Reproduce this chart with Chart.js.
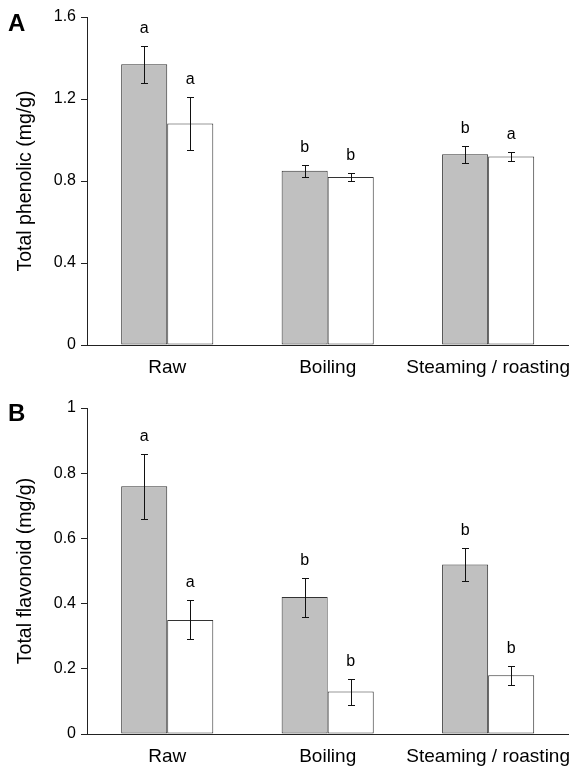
<!DOCTYPE html>
<html>
<head>
<meta charset="utf-8">
<script src="https://cdn.jsdelivr.net/npm/chart.js@4/dist/chart.umd.min.js"></script>
<style>
  html, body { margin: 0; padding: 0; background: #fff; }
  .panel { position: absolute; left: 0; width: 573px; }
  #pA { top: 0; height: 380px; }
  #pB { top: 380px; height: 391px; }
</style>
</head>
<body>
<div class="panel" id="pA"><canvas id="chartA"></canvas></div>
<div class="panel" id="pB"><canvas id="chartB"></canvas></div>
<script>
// ---- data ----
const categories = ['Raw', 'Boiling', 'Steaming / roasting'];

// panel A: total phenolic (mg/g)
const phenolicGrey = [1.37, 0.85, 0.93];
const phenolicGreyErr = [0.09, 0.03, 0.04];
const phenolicGreyLetters = ['a', 'b', 'b'];
const phenolicWhite = [1.08, 0.82, 0.92];
const phenolicWhiteErr = [0.13, 0.02, 0.02];
const phenolicWhiteLetters = ['a', 'b', 'a'];
const phenolicTicks = { min: 0, max: 1.6, step: 0.4 };

// panel B: total flavonoid (mg/g)
const flavonoidGrey = [0.76, 0.42, 0.52];
const flavonoidGreyErr = [0.10, 0.06, 0.05];
const flavonoidGreyLetters = ['a', 'b', 'b'];
const flavonoidWhite = [0.35, 0.13, 0.18];
const flavonoidWhiteErr = [0.06, 0.04, 0.03];
const flavonoidWhiteLetters = ['a', 'b', 'b'];
const flavonoidTicks = { min: 0, max: 1, step: 0.2 };

const FONT = "'Liberation Sans', Arial, sans-serif";
const INK = '#000';
const EDGE = '#333';

// error bars, significance letters and the panel letter
const annotPlugin = {
  id: 'annot',
  afterDatasetsDraw(chart, args, opts) {
    const { ctx } = chart;
    const y = chart.scales.y;
    ctx.save();
    opts.series.forEach((s, di) => {
      const meta = chart.getDatasetMeta(di);
      meta.data.forEach((bar, i) => {
        const v = chart.data.datasets[di].data[i];
        const yt = Math.round(y.getPixelForValue(v + s.errors[i])) + 0.5;
        const yb = Math.round(y.getPixelForValue(v - s.errors[i])) + 0.5;
        const x = Math.round(bar.x) + 0.5;
        ctx.strokeStyle = '#111';
        ctx.lineWidth = 1;
        ctx.beginPath();
        ctx.moveTo(x, yt); ctx.lineTo(x, yb);
        ctx.moveTo(x - 3.5, yt); ctx.lineTo(x + 3.5, yt);
        ctx.moveTo(x - 3.5, yb); ctx.lineTo(x + 3.5, yb);
        ctx.stroke();
        ctx.fillStyle = INK;
        ctx.font = '16px ' + FONT;
        ctx.textAlign = 'center';
        ctx.textBaseline = 'middle';
        ctx.fillText(s.letters[i], bar.x, yt - 18);
      });
    });
    ctx.font = 'bold 24px ' + FONT;
    ctx.textAlign = 'left';
    ctx.textBaseline = 'alphabetic';
    ctx.fillStyle = INK;
    ctx.fillText(opts.panel, 8, opts.panelY);
    ctx.restore();
  }
};

function makeChart(id, grey, white, series, ticks, title, topPad, xHeight, panel, panelY) {
  return new Chart(document.getElementById(id), {
    type: 'bar',
    data: {
      labels: categories,
      datasets: [
        { data: grey, backgroundColor: '#c0c0c0', borderColor: EDGE, borderWidth: 1, borderSkipped: false },
        { data: white, backgroundColor: '#ffffff', borderColor: EDGE, borderWidth: 1, borderSkipped: false }
      ]
    },
    options: {
      responsive: true, maintainAspectRatio: false, animation: false,
      layout: { padding: { top: topPad, left: 0, right: 0, bottom: 0 } },
      datasets: { bar: { categoryPercentage: 0.574, barPercentage: 1 } },
      scales: {
        x: {
          grid: { display: false },
          border: { display: true, color: '#222', width: 1 },
          ticks: { color: INK, font: { family: FONT, size: 19 }, padding: 3, maxRotation: 0, autoSkip: false },
          afterFit: s => { s.height = xHeight; }
        },
        y: {
          min: ticks.min, max: ticks.max,
          grid: { drawOnChartArea: false, drawTicks: true, tickLength: 6, color: '#222' },
          border: { display: true, color: '#222', width: 1 },
          ticks: {
            stepSize: ticks.step, color: INK, font: { family: FONT, size: 16 }, padding: 5,
            callback: v => String(Number(v.toFixed(2)))
          },
          title: { display: true, text: title, color: INK, font: { family: FONT, size: 19.5 }, padding: { top: 14, bottom: 0 } },
          afterFit: s => { s.width = 87; }
        }
      },
      plugins: {
        legend: { display: false },
        tooltip: { enabled: false },
        annot: { series, panel, panelY }
      }
    },
    plugins: [annotPlugin]
  });
}

makeChart('chartA', phenolicGrey, phenolicWhite,
  [{ errors: phenolicGreyErr, letters: phenolicGreyLetters },
   { errors: phenolicWhiteErr, letters: phenolicWhiteLetters }],
  phenolicTicks, 'Total phenolic (mg/g)', 17, 35, 'A', 31);

makeChart('chartB', flavonoidGrey, flavonoidWhite,
  [{ errors: flavonoidGreyErr, letters: flavonoidGreyLetters },
   { errors: flavonoidWhiteErr, letters: flavonoidWhiteLetters }],
  flavonoidTicks, 'Total flavonoid (mg/g)', 28, 37, 'B', 41);
</script>
</body>
</html>
